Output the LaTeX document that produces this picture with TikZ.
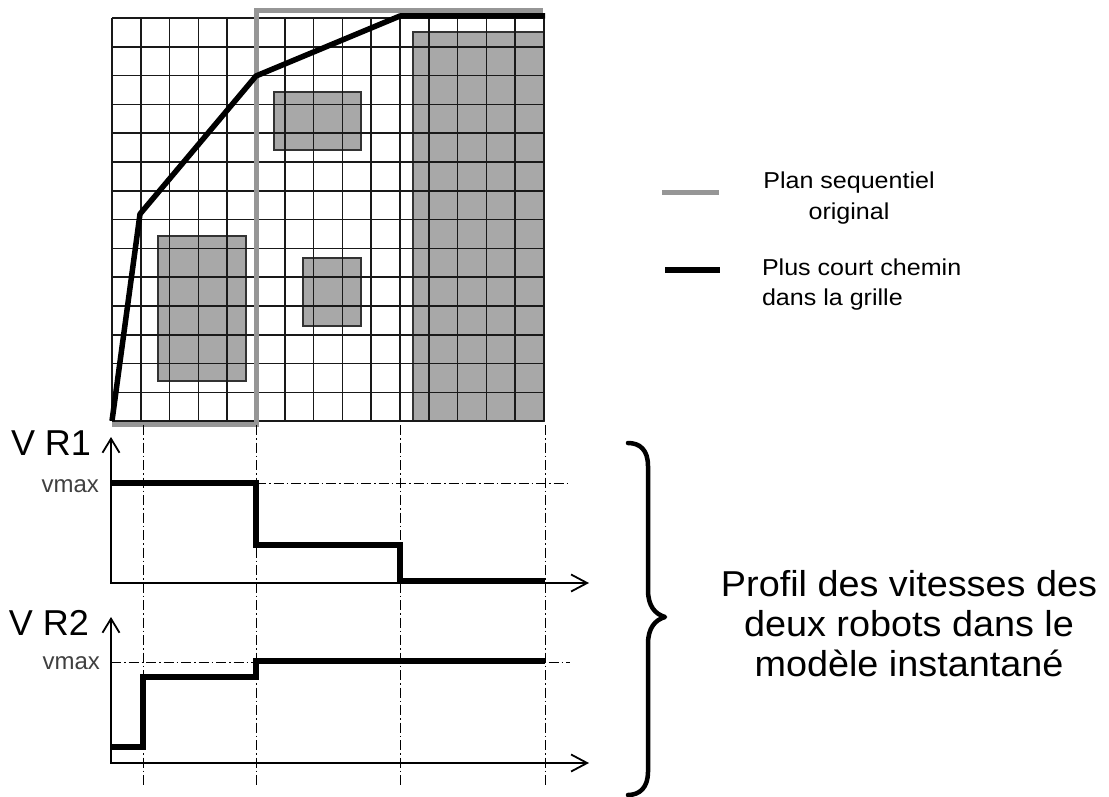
\documentclass[tikz,border=0pt]{standalone}
\usepackage{fontspec}
\setmainfont{Liberation Sans}
\usetikzlibrary{arrows.meta}
\definecolor{obgray}{RGB}{168,168,168}
\definecolor{plangray}{RGB}{150,150,150}
\begin{document}
\begin{tikzpicture}[x=1pt,y=-1pt,
  gridline/.style={draw=black!90, line width=1.6pt},
  obst/.style={fill=obgray, draw=black!80, line width=1.2pt},
  plan/.style={draw=plangray, line width=5pt},
  chemin/.style={draw=black, line width=5.5pt, line join=round},
  axisline/.style={draw=black, line width=1.8pt, line join=miter,
    {Straight Barb[length=14pt,width=17pt,line width=1.8pt]}-{Straight Barb[length=16pt,width=17pt,line width=1.8pt]}},
  vel/.style={draw=black, line width=5.5pt, line join=miter},
  guide/.style={draw=black, line width=0.9pt, dash pattern=on 10pt off 3pt on 1.5pt off 3pt},
  lbl/.style={inner sep=0pt, outer sep=0pt}
]
\useasboundingbox (0,0) rectangle (1109,797);

% obstacles
\path[obst] (158,236) rectangle (246,381);
\path[obst] (274,92) rectangle (361,150);
\path[obst] (303,258) rectangle (361,326);
\path[obst] (413,32) rectangle (544,421.2);

% grid
\foreach \i in {0,...,15}
  \draw[gridline] ({112+28.8*\i},18) -- ({112+28.8*\i},421.2);
\foreach \j in {0,...,14}
  \draw[gridline] (112,{18+28.8*\j}) -- (544,{18+28.8*\j});

% original sequential plan
\draw[plan] (112,424) -- (256,424) -- (256,11) -- (543,11);
% shortest path in the grid
\draw[chemin] (112,421) -- (140,214) -- (256,76) -- (400,16) -- (545,16);

% guides
\foreach \gx in {143,256,400,545}
  \draw[guide] (\gx,425) -- (\gx,787);
\draw[guide] (256,483) -- (570,483);
\draw[guide] (111,662) -- (570,662);

% axes
\draw[axisline] (111,437) -- (111,583) -- (589,583);
\draw[axisline] (111,617) -- (111,763) -- (589,763);

% velocity profiles
\draw[vel] (111,483) -- (256,483) -- (256,545) -- (400,545) -- (400,581) -- (545,581);
\draw[vel] (111,747) -- (143,747) -- (143,677) -- (256,677) -- (256,661) -- (545,661);

% axis labels
\node[lbl, anchor=base west, font=\fontsize{36}{36}\selectfont] (vr1) at (11,455) {V R1};
\node[lbl, anchor=base west, font=\fontsize{36}{36}\selectfont] (vr2) at (9,635) {V R2};
\node[lbl, anchor=base east, text=black!75, font=\fontsize{24}{24}\selectfont] (vmax1) at (99,492) {vmax};
\node[lbl, anchor=base east, text=black!75, font=\fontsize{24}{24}\selectfont] (vmax2) at (100,669) {vmax};

% legend
\coordinate (lg1a) at (662,193);
\coordinate (lg1b) at (719,193);
\coordinate (lg2a) at (665,270);
\coordinate (lg2b) at (720,270);
\draw[plan] (lg1a) -- (lg1b);
\draw[chemin, line width=6pt] (lg2a) -- (lg2b);
\node[lbl, anchor=base, font=\fontsize{23}{23}\selectfont] (leg1) at (849,189) {\scalebox{1.09}[1]{Plan sequentiel}};
\node[lbl, anchor=base, font=\fontsize{23}{23}\selectfont] (leg2) at (849,219) {\scalebox{1.09}[1]{original}};
\node[lbl, anchor=base west, font=\fontsize{23}{23}\selectfont] (leg3) at (762,275) {\scalebox{1.09}[1]{Plus court chemin}};
\node[lbl, anchor=base west, font=\fontsize{23}{23}\selectfont] (leg4) at (762,305) {\scalebox{1.09}[1]{dans la grille}};

% brace
\draw[line width=4.5pt, line cap=round, line join=round]
  (628,443) .. controls (640,443) and (648,450) .. (648,466)
  -- (648,590) .. controls (648,606) and (655,614) .. (665,617)
  .. controls (655,620) and (648,628) .. (648,644)
  -- (648,772) .. controls (648,787) and (640,795) .. (628,795);

% description
\node[lbl, anchor=base, font=\fontsize{36}{36}\selectfont] (p1) at (909,596) {\scalebox{1.05}[1]{Profil des vitesses des}};
\node[lbl, anchor=base, font=\fontsize{36}{36}\selectfont] (p2) at (909,636) {\scalebox{1.05}[1]{deux robots dans le}};
\node[lbl, anchor=base, font=\fontsize{36}{36}\selectfont] (p3) at (909,676) {\scalebox{1.05}[1]{modèle instantané}};
\end{tikzpicture}
\end{document}
